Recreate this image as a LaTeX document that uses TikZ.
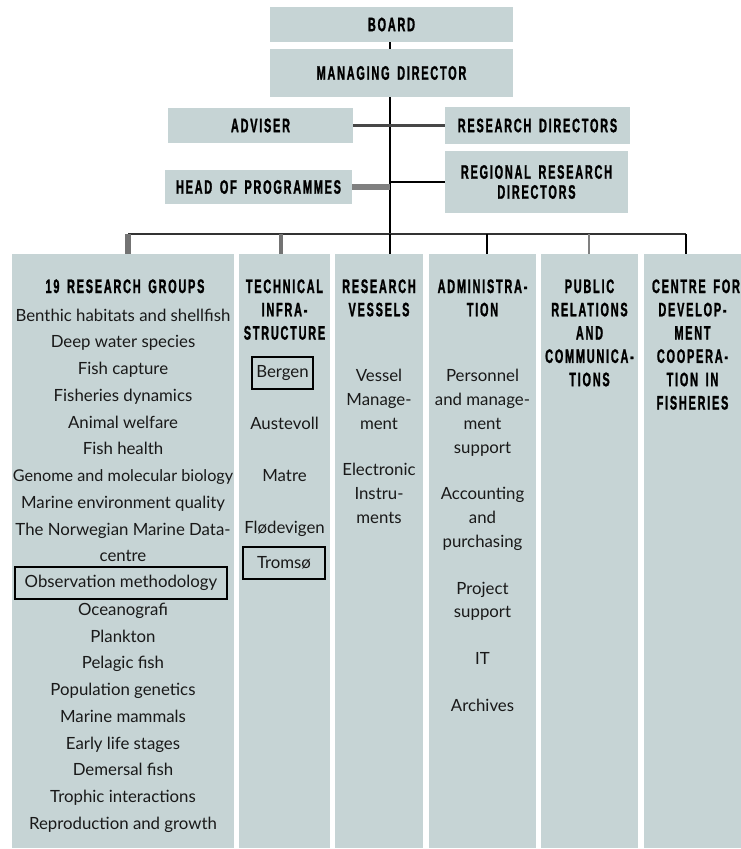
\documentclass[tikz,border=0pt]{standalone}
\usepackage{fontspec}
\setmainfont{Lato}
\newfontfamily\hfont[FakeStretch=0.56,LetterSpace=9,FakeBold=1.2,WordSpace=1.6]{Liberation Sans}
\definecolor{boxc}{RGB}{198,212,213}
\definecolor{txt}{RGB}{25,25,25}
\begin{document}
\begin{tikzpicture}[x=1pt,y=-1pt,
  box/.style={fill=boxc,draw=none,inner sep=0pt,align=center,
    font=\hfont\bfseries\fontsize{19.5}{20}\selectfont},
  col/.style={fill=boxc,draw=none,inner sep=0pt,minimum height=594pt},
  hd/.style={font=\hfont\bfseries\fontsize{19.5}{20}\selectfont,inner sep=0pt,anchor=base},
  it/.style={font=\fontsize{16.8}{20}\selectfont,text=txt,inner sep=0pt,anchor=base},
  framed/.style={draw=black,line width=1.4pt,inner sep=0pt,text=txt,
    font=\fontsize{16.8}{20}\selectfont,minimum height=32pt},
  blk/.style={draw=black,line width=2.6pt},
  thin/.style={draw=black,line width=2.2pt},
  bar/.style={draw=black!80,line width=2.2pt}]
\useasboundingbox (0,0) rectangle (741,849);
\fill[white] (0,0) rectangle (741,849);

% top boxes
\node[box,minimum width=243pt,minimum height=35pt] (board) at (391.5,24.5) {BOARD};
\node[box,minimum width=243pt,minimum height=48pt] (md) at (391.5,73) {MANAGING DIRECTOR};
\node[box,minimum width=185pt,minimum height=35pt] (adviser) at (260.5,125.5) {ADVISER};
\node[box,minimum width=185pt,minimum height=37pt] (resdir) at (537.5,125.5) {RESEARCH DIRECTORS};
\node[box,minimum width=183pt,minimum height=62pt] (regdir) at (536.5,182) {REGIONAL RESEARCH\\DIRECTORS};
\node[box,minimum width=187pt,minimum height=34pt] (hop) at (258.5,187) {HEAD OF PROGRAMMES};

% columns
\node[col,minimum width=222pt] (c1) at (123,551) {};
\node[col,minimum width=91pt] (c2) at (284.5,551) {};
\node[col,minimum width=88pt] (c3) at (379,551) {};
\node[col,minimum width=107pt] (c4) at (482.5,551) {};
\node[col,minimum width=97pt] (c5) at (589.5,551) {};
\node[col,minimum width=97pt] (c6) at (692.5,551) {};

% connectors
\coordinate (spine) at (390,234);
\coordinate (d1) at (128,234);
\coordinate (d2) at (281,234);
\coordinate (d4) at (487,234);
\coordinate (d5) at (589,234);
\coordinate (d6) at (686,234);
\draw[blk] (board.south -| spine) -- (md.north -| spine);
\draw[blk] (md.south -| spine) -- (spine);
\draw[draw=black!72,line width=3.2pt] (adviser.east) -- (resdir.west);
\draw[thin] (regdir.west -| spine) -- (regdir.west);
\draw[draw=black!50,line width=6.5pt] (hop.east) -- (hop.east -| spine);
\draw[bar] (d1) -- (d6);
\draw[draw=black!55,line width=5.5pt] (d1) -- (d1 |- c1.north);
\draw[draw=black!55,line width=3.5pt] (d2) -- (d2 |- c2.north);
\draw[blk] (spine) -- (spine |- c3.north);
\draw[thin] (d4) -- (d4 |- c4.north);
\draw[draw=black!50,line width=2.6pt] (d5) -- (d5 |- c5.north);
\draw[thin] (d6) -- (d6 |- c6.north);

% column 1
\node[hd] (h1) at (125,293) {19 RESEARCH GROUPS};
\node[it] (g1) at (123,321) {Benthic habitats and shellfish};
\node[it] (g2) at (123,347.75) {Deep water species};
\node[it] (g3) at (123,374.5) {Fish capture};
\node[it] (g4) at (123,401.25) {Fisheries dynamics};
\node[it] (g5) at (123,428) {Animal welfare};
\node[it] (g6) at (123,454.75) {Fish health};
\node[it,font=\fontsize{16.2}{20}\selectfont] (g7) at (123,481.5) {Genome and molecular biology};
\node[it] (g8) at (123,508.25) {Marine environment quality};
\node[it] (g9) at (123,535) {The Norwegian Marine Data-};
\node[it] (g10) at (123,561.75) {centre};
\node[framed,minimum width=212pt] (g11) at (121,583) {Observation methodology};
\node[it] (g12) at (123,615.25) {Oceanografi};
\node[it] (g13) at (123,642) {Plankton};
\node[it] (g14) at (123,668.75) {Pelagic fish};
\node[it] (g15) at (123,695.5) {Population genetics};
\node[it] (g16) at (123,722.25) {Marine mammals};
\node[it] (g17) at (123,749) {Early life stages};
\node[it] (g18) at (123,775.75) {Demersal fish};
\node[it] (g19) at (123,802.5) {Trophic interactions};
\node[it] (g20) at (123,829.25) {Reproduction and growth};

% column 2
\node[hd] (h2a) at (284.5,293) {TECHNICAL};
\node[hd] (h2b) at (284.5,316.3) {INFRA-};
\node[hd] (h2c) at (284.5,339.6) {STRUCTURE};
\node[framed,minimum width=61pt] (t1) at (282.5,373) {Bergen};
\node[it] (t2) at (284.5,429) {Austevoll};
\node[it] (t3) at (284.5,481) {Matre};
\node[it] (t4) at (284.5,533) {Flødevigen};
\node[framed,minimum width=82pt] (t5) at (284,563) {Tromsø};

% column 3
\node[hd] (h3a) at (379,293) {RESEARCH};
\node[hd] (h3b) at (379,316.3) {VESSELS};
\node[it] (v1) at (379,381) {Vessel};
\node[it] (v2) at (379,405) {Manage-};
\node[it] (v3) at (379,429) {ment};
\node[it] (v4) at (379,475) {Electronic};
\node[it] (v5) at (379,499) {Instru-};
\node[it] (v6) at (379,523) {ments};

% column 4
\node[hd] (h4a) at (482.5,293) {ADMINISTRA-};
\node[hd] (h4b) at (482.5,316.3) {TION};
\node[it] (a1) at (482.5,381) {Personnel};
\node[it] (a2) at (482.5,405) {and manage-};
\node[it] (a3) at (482.5,429) {ment};
\node[it] (a4) at (482.5,453) {support};
\node[it] (a5) at (482.5,499) {Accounting};
\node[it] (a6) at (482.5,523) {and};
\node[it] (a7) at (482.5,547) {purchasing};
\node[it] (a8) at (482.5,594) {Project};
\node[it] (a9) at (482.5,617) {support};
\node[it] (a10) at (482.5,664) {IT};
\node[it] (a11) at (482.5,711) {Archives};

% column 5
\node[hd] (h5a) at (589.5,293) {PUBLIC};
\node[hd] (h5b) at (589.5,316.3) {RELATIONS};
\node[hd] (h5c) at (589.5,339.6) {AND};
\node[hd] (h5d) at (589.5,362.9) {COMMUNICA-};
\node[hd] (h5e) at (589.5,386.2) {TIONS};

% column 6
\node[hd] (h6a) at (696,293) {CENTRE FOR};
\node[hd] (h6b) at (692.5,316.3) {DEVELOP-};
\node[hd] (h6c) at (692.5,339.6) {MENT};
\node[hd] (h6d) at (692.5,362.9) {COOPERA-};
\node[hd] (h6e) at (692.5,386.2) {TION IN};
\node[hd] (h6f) at (692.5,409.5) {FISHERIES};
\end{tikzpicture}
\end{document}
